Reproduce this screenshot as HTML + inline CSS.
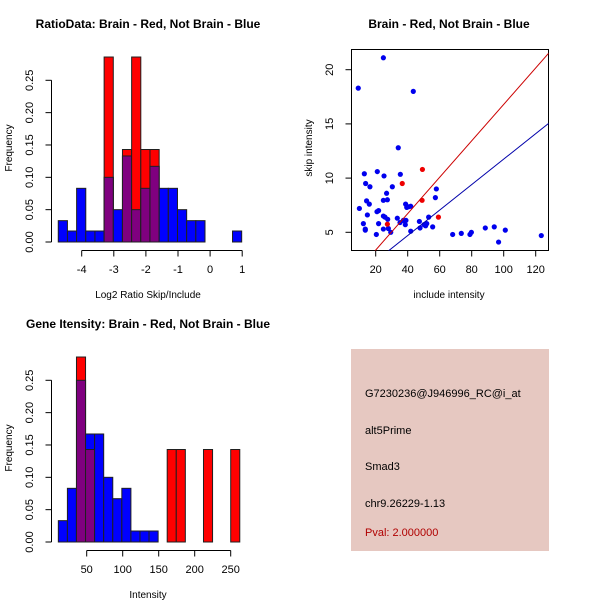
<!DOCTYPE html>
<html><head><meta charset="utf-8"><style>
body{margin:0;background:#fff}
svg{display:block;font-family:"Liberation Sans",sans-serif}
</style></head><body>
<svg id="c" width="600" height="600" xmlns="http://www.w3.org/2000/svg">
<rect x="351" y="349" width="198" height="202" fill="#e6c8c1"/>
<text x="365" y="397" font-size="11">G7230236@J946996_RC@i_at</text>
<text x="365" y="434" font-size="11">alt5Prime</text>
<text x="365" y="470" font-size="11">Smad3</text>
<text x="365" y="507" font-size="11">chr9.26229-1.13</text>
<text x="365" y="536" font-size="11" fill="#b00000">Pval: 2.000000</text>
</svg>
<script>
// Histogram 1: log2 ratio
const ratioStart = -4.73, ratioWidth = 0.2857;
const ratioBlue = [0.033,0.017,0.083,0.017,0.017,0.10,0.05,0.133,0.05,0.083,0.117,0.083,0.083,0.05,0.033,0.033,0,0,0,0.017];
const ratioRed  = [0,0,0,0,0,0.286,0,0.143,0.286,0.143,0.143,0,0,0,0,0,0,0,0,0];
const ratioTicks = [-4,-3,-2,-1,0,1];
// Histogram 2: intensity
const intStart = 10.6, intWidth = 12.6;
const intBlue = [0.033,0.083,0.25,0.167,0.167,0.10,0.067,0.083,0.017,0.017,0.017,0,0,0,0,0,0,0,0,0];
const intRed  = [0,0,0.286,0.143,0,0,0,0,0,0,0,0,0.143,0.143,0,0,0.143,0,0,0.143];
const intTicks = [50,100,150,200,250];
const freqTicks = [0,0.05,0.10,0.15,0.20,0.25];
// Scatter
const blueX = [9.1,24.8,43.5,12.9,34.1,21.0,25.2,35.4,13.7,16.4,26.8,30.4,14.3,16.0,9.8,24.8,27.3,20.8,21.8,14.8,12.3,13.5,13.5,21.8,20.4,24.8,27.5,27.9,29.4,24.8,25.8,38.7,39.4,40.4,41.9,33.5,35.2,37.3,38.9,38.5,41.9,47.3,47.7,50.2,51.9,53.1,51.2,55.6,57.9,57.3,68.1,73.5,78.9,79.8,88.5,94.1,96.8,101.0,123.5];
const blueY = [18.3,21.1,18.0,10.4,12.8,10.6,10.2,10.35,9.5,9.2,8.6,9.2,7.9,7.6,7.2,7.95,8.0,6.9,7.0,6.6,5.8,5.3,5.2,5.8,4.8,5.3,6.2,5.35,5.0,6.5,6.4,7.6,7.3,7.35,7.4,6.3,5.9,6.1,6.1,5.7,5.1,6.0,5.4,5.7,5.8,6.4,5.6,5.5,9.0,8.2,4.8,4.9,4.8,5.0,5.4,5.5,4.1,5.2,4.7];
const redX = [36.6,49.2,49.0,59.2,27.3];
const redY = [9.5,10.8,7.95,6.4,5.75];
const lineSlopes = [0.168,0.1175];
const xTicksS = [20,40,60,80,100,120];
const yTicksS = [5,10,15,20];

const svg = document.getElementById('c');
const NS = 'http://www.w3.org/2000/svg';
function mk(tag, attrs, parent){const e=document.createElementNS(NS,tag);for(const k in attrs)e.setAttribute(k,attrs[k]);(parent||svg).appendChild(e);return e;}
function txt(x,y,s,attrs){const e=mk('text',Object.assign({x:x,y:y,'font-size':11,'text-anchor':'middle'},attrs||{}));e.textContent=s;return e;}

function hist(oy, xs, start, width, blue, red, ticks, title, xlabel, prefix){
  const ys = v => oy + 242 - v*646.8;
  for(let i=0;i<blue.length;i++){
    const x0=xs(start+i*width), x1=xs(start+(i+1)*width);
    const b=blue[i], r=red[i];
    if(b>0){const e=mk('rect',{x:x0,y:ys(b),width:x1-x0,height:ys(0)-ys(b),fill:'#0000ff',stroke:'#202020','stroke-width':1});
      
      }
    if(r>0){const e=mk('rect',{x:x0,y:ys(r),width:x1-x0,height:ys(0)-ys(r),fill:'#ff0000',stroke:'#202020','stroke-width':1});
      
      }
    const m=Math.min(b,r);
    if(m>0){const e=mk('rect',{x:x0,y:ys(m),width:x1-x0,height:ys(0)-ys(m),fill:'#7f007f',stroke:'#202020','stroke-width':1});
      
      }
  }
  const xa=mk('line',{x1:xs(ticks[0]),x2:xs(ticks[ticks.length-1]),y1:oy+250.5,y2:oy+250.5,stroke:'#000'});
  
  
  ticks.forEach(t=>{mk('line',{x1:xs(t),x2:xs(t),y1:oy+250.5,y2:oy+256.5,stroke:'#000'});
    const l=txt(xs(t),oy+273,String(t));
    
    });
  const ya=mk('line',{x1:51.5,x2:51.5,y1:ys(0),y2:ys(0.25),stroke:'#000'});
  
  
  freqTicks.forEach(t=>{mk('line',{x1:45.5,x2:51.5,y1:ys(t),y2:ys(t),stroke:'#000'});
    const l=txt(0,0,t.toFixed(2),{transform:`translate(33,${ys(t)}) rotate(-90)`});
    
    });
  const yt=txt(0,0,'Frequency',{transform:`translate(12,${oy+148}) rotate(-90)`,'font-size':10});
  
  
  const xt=txt(148,oy+298,xlabel,{'font-size':10});
  
  
  const tt=txt(148,oy+28,title,{'font-weight':'bold','font-size':12});
  
  
}
hist(0, v=>81.7+(v+4)*32.1, ratioStart, ratioWidth, ratioBlue, ratioRed, ratioTicks, 'RatioData: Brain - Red, Not Brain - Blue', 'Log2 Ratio Skip/Include', 'ratio');
hist(300, v=>50.7+v*0.72, intStart, intWidth, intBlue, intRed, intTicks, 'Gene Itensity: Brain - Red, Not Brain - Blue', 'Intensity', 'intensity');

// scatter
const sx = v => 343.7 + v*1.6;
const sy = v => 232.3 - (v-5)*10.84;
const L=351.5,R=548.5,T=49.5,B=250.5;
const clip=mk('clipPath',{id:'sc'});mk('rect',{x:L,y:T,width:R-L,height:B-T},clip);
const box=mk('rect',{x:L,y:T,width:R-L,height:B-T,fill:'none',stroke:'#000'});


const g=mk('g',{'clip-path':'url(#sc)'});
blueX.forEach((x,i)=>{const c=mk('circle',{cx:sx(x),cy:sy(blueY[i]),r:2.6,fill:'#0000ee'},g);
  
  });
redX.forEach((x,i)=>{const c=mk('circle',{cx:sx(x),cy:sy(redY[i]),r:2.6,fill:'#ee0000'},g);
  
  });
['#cc0000','#0000aa'].forEach((col,i)=>{const l=mk('line',{x1:sx(0),y1:sy(0),x2:sx(140),y2:sy(140*lineSlopes[i]),stroke:col,'stroke-width':1},g);
  
  });
xTicksS.forEach(t=>{mk('line',{x1:sx(t),x2:sx(t),y1:B,y2:B+6,stroke:'#000'});
  const l=txt(sx(t),273,String(t));
  
  });
yTicksS.forEach(t=>{mk('line',{x1:L-6,x2:L,y1:sy(t),y2:sy(t),stroke:'#000'});
  const l=txt(0,0,String(t),{transform:`translate(333,${sy(t)}) rotate(-90)`});
  
  });
const sxl=txt(449,298,'include intensity',{'font-size':10});


const syl=txt(0,0,'skip intensity',{transform:'translate(312,148) rotate(-90)','font-size':10});


const st=txt(449,28,'Brain - Red, Not Brain - Blue',{'font-weight':'bold','font-size':12});


</script>
</body></html>
